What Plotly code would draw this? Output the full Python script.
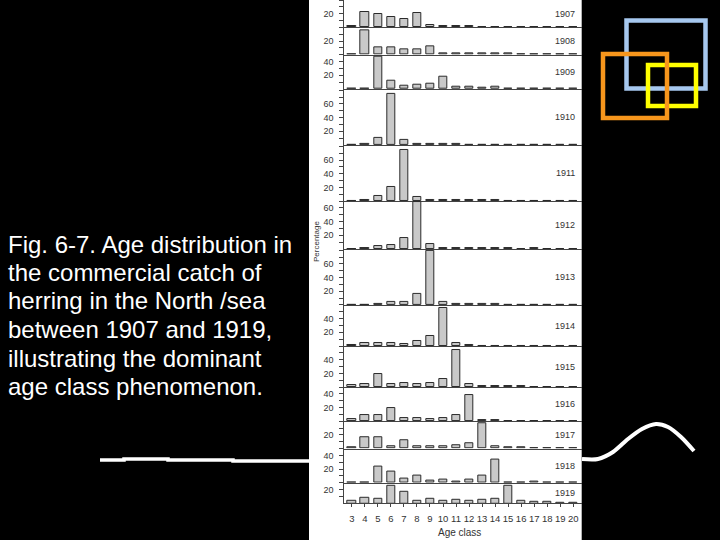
import plotly.graph_objects as go

# ---------------- data ----------------
ages = [3, 4, 5, 6, 7, 8, 9, 10, 11, 12, 13, 14, 15, 16, 17, 18, 19, 20]
age_labels = [str(a) for a in ages]
years = ["1907", "1908", "1909", "1910", "1911", "1912", "1913",
         "1914", "1915", "1916", "1917", "1918", "1919"]

v1907 = [1.5, 23, 19, 15, 12.5, 20.5, 3.5, 2, 1.5, 2, 0.5, 0.5, 0, 0, 0, 0, 0, 0]
v1908 = [0, 35, 11, 10.5, 8.5, 7.5, 12, 1.5, 1.5, 1.5, 1.5, 1.5, 1.5, 0, 0, 0, 0, 0]
v1909 = [0, 0, 47, 12, 4.5, 6, 8, 18, 3, 3, 2, 3, 0.5, 0.5, 0.5, 0.5, 0, 0]
v1910 = [0, 1.5, 10, 74, 7, 1, 1, 1, 1, 0, 0, 0, 0, 0, 0, 0, 0, 0]
v1911 = [0, 1.5, 7, 20, 75, 5.5, 1.5, 1.5, 1, 1, 1, 1, 0, 0, 0, 0, 0, 0]
v1912 = [0, 2, 4.5, 6, 16, 68, 7.5, 1.5, 1, 1, 1, 1, 1, 0, 1, 0, 0, 0]
v1913 = [0, 0, 1, 4.5, 5, 16, 79, 5, 2, 1.5, 1, 1, 0, 0, 0, 0, 0, 0]
v1914 = [1.5, 4, 4, 4.5, 2.5, 7.5, 15, 56, 5, 2, 0, 0, 0, 0, 0, 0, 0, 0]
v1915 = [2.5, 4, 19.5, 4.5, 5.5, 4.5, 6, 12, 54, 5, 1.5, 1.5, 1.5, 1.5, 0, 0, 0, 0]
v1916 = [2.5, 9, 9, 19, 4, 4, 3.5, 4, 9, 38.5, 1.5, 1.5, 1, 1, 0.5, 0.5, 0, 0]
v1917 = [1.5, 16.5, 16.5, 4, 11.5, 4, 4, 4, 5.5, 8, 37, 3, 2.5, 1.5, 0, 0, 0, 0]
v1918 = [0, 0, 23, 16.5, 5.5, 10.5, 3, 4.5, 2, 5, 10, 34, 0, 1, 1.5, 1, 0.5, 0.5]
v1919 = [3.3, 7.5, 7, 26, 17, 4.3, 6, 4, 5, 4.3, 5.5, 6, 26, 3.3, 1.5, 1.5, 1, 0.5]

series = [v1907, v1908, v1909, v1910, v1911, v1912, v1913,
          v1914, v1915, v1916, v1917, v1918, v1919]
# y-axis maximum (percentage) of each panel row
ymax = [40, 40, 50, 82, 82, 70, 82, 60, 60, 50, 40, 50, 30]

caption = ["Fig. 6-7. Age distribution in",
           "the commercial catch of",
           "herring in the North /sea",
           "between 1907 and 1919,",
           "illustrating the dominant",
           "age class phenomenon."]

# ---------------- layout helpers ----------------
W, H = 720, 540
def fx(x):
    return x / W
def fy(y):
    return 1 - y / H

PLOT_L, PLOT_R = 344.3, 581.7
BASE = 503.3
scale = BASE / sum(ymax)  # px per percent
FONT = "Liberation Sans, Arial, sans-serif"
AXC = "#444444"

fig = go.Figure()
layout = dict(
    width=W, height=H,
    margin=dict(l=0, r=0, t=0, b=0),
    paper_bgcolor="black",
    plot_bgcolor="rgba(0,0,0,0)",
    showlegend=False,
    bargap=0,
    font=dict(family=FONT),
)

annotations = []
top = 0.0
n = len(years)
for i, (yr, vals, ym) in enumerate(zip(years, series, ymax)):
    bottom = top + ym * scale
    sfx = "" if i == 0 else str(i + 1)
    last = i == n - 1
    fig.add_trace(go.Bar(
        x=ages, y=vals, xaxis="x" + sfx, yaxis="y" + sfx, width=0.63,
        marker=dict(color="#c9c9c9", line=dict(color="#2b2b2b", width=1)),
        hoverinfo="skip", showlegend=False,
    ))
    xa = dict(
        domain=[fx(PLOT_L), fx(PLOT_R)], range=[2.42, 20.65],
        anchor="y" + sfx, showline=True, linecolor=AXC, linewidth=1,
        showgrid=False, zeroline=False, fixedrange=True,
    )
    if last:
        xa.update(tickvals=ages, ticktext=age_labels, ticks="outside", tickangle=0,
                  ticklen=3, tickcolor=AXC, ticklabelstandoff=3,
                  tickfont=dict(size=9.5, color="#333"), showticklabels=True)
    else:
        xa.update(showticklabels=False, ticks="")
    if i > 0:
        xa["matches"] = "x"
    tv = [v for v in range(10, int(ym) + 1, 10)]
    tt = [str(v) if (v % 20 == 0 and v <= ym - 8) else "" for v in tv]
    ya = dict(
        domain=[fy(bottom), fy(top)], range=[0, ym], anchor="x" + sfx,
        showline=True, linecolor=AXC, linewidth=1, showgrid=False,
        zeroline=False, tickvals=tv, ticktext=tt, ticks="outside", ticklen=4,
        ticklabelstandoff=4,
        tickcolor=AXC, tickfont=dict(size=9, color="#333"), fixedrange=True,
    )
    layout["xaxis" + sfx] = xa
    layout["yaxis" + sfx] = ya
    annotations.append(dict(
        text=yr, xref="paper", yref="paper", x=fx(577), y=fy((top + bottom) / 2),
        xanchor="right", yanchor="middle", showarrow=False,
        font=dict(size=9, color="#333"),
    ))
    top = bottom

# overlay pixel axes for the decorative curve
layout["xaxis14"] = dict(domain=[0, 1], range=[0, W], visible=False, fixedrange=True,
                         anchor="y14")
layout["yaxis14"] = dict(domain=[0, 1], range=[H, 0], visible=False, fixedrange=True,
                         anchor="x14")
curve_x = [582, 598, 613, 628, 642, 656, 668, 681, 694]
curve_y = [459, 459, 452, 439, 429, 424, 427, 437, 451]
fig.add_trace(go.Scatter(x=curve_x, y=curve_y, xaxis="x14", yaxis="y14",
                         mode="lines", line=dict(color="white", width=4, shape="spline",
                                                 smoothing=0.8),
                         hoverinfo="skip", showlegend=False))

annotations.append(dict(text="Percentage", xref="paper", yref="paper",
                        x=fx(316), y=fy(242), textangle=-90, showarrow=False,
                        xanchor="center", yanchor="middle",
                        font=dict(size=8, color="#333")))
annotations.append(dict(text="Age class", xref="paper", yref="paper",
                        x=fx(460), y=fy(532), showarrow=False,
                        xanchor="center", yanchor="middle",
                        font=dict(size=10, color="#333")))
cap_y = [244, 272, 300, 329, 358, 386]
for line, yy in zip(caption, cap_y):
    annotations.append(dict(text=line, xref="paper", yref="paper", x=fx(6), y=fy(yy),
                            xanchor="left", yanchor="middle", showarrow=False,
                            font=dict(size=24, color="white")))

shapes = [
    dict(type="rect", xref="paper", yref="paper", x0=fx(309), x1=fx(581.7),
         y0=0, y1=1, fillcolor="white", line=dict(width=0), layer="below"),
    dict(type="path", xref="paper", yref="paper",
         path=f"M {fx(100)} {fy(460)} L {fx(124)} {fy(460)} L {fx(124)} {fy(459)} "
              f"L {fx(168)} {fy(459)} L {fx(168)} {fy(460)} L {fx(233)} {fy(460)} "
              f"L {fx(233)} {fy(461)} L {fx(309)} {fy(461)}",
         line=dict(color="white", width=3.5)),
    dict(type="rect", xref="paper", yref="paper", x0=fx(626.5), x1=fx(705.5),
         y0=fy(88.5), y1=fy(20.5), line=dict(color="#a6c8ef", width=4.5)),
    dict(type="rect", xref="paper", yref="paper", x0=fx(648), x1=fx(696),
         y0=fy(106), y1=fy(65), line=dict(color="#ffff00", width=4.5)),
    dict(type="rect", xref="paper", yref="paper", x0=fx(603), x1=fx(667),
         y0=fy(118), y1=fy(54), line=dict(color="#f7961c", width=4.5)),
]
layout["annotations"] = annotations
layout["shapes"] = shapes
fig.update_layout(**layout)
fig.write_html("out.html", config={"displayModeBar": False},
               post_script="document.body.style.margin='0';document.body.style.background='black';")
